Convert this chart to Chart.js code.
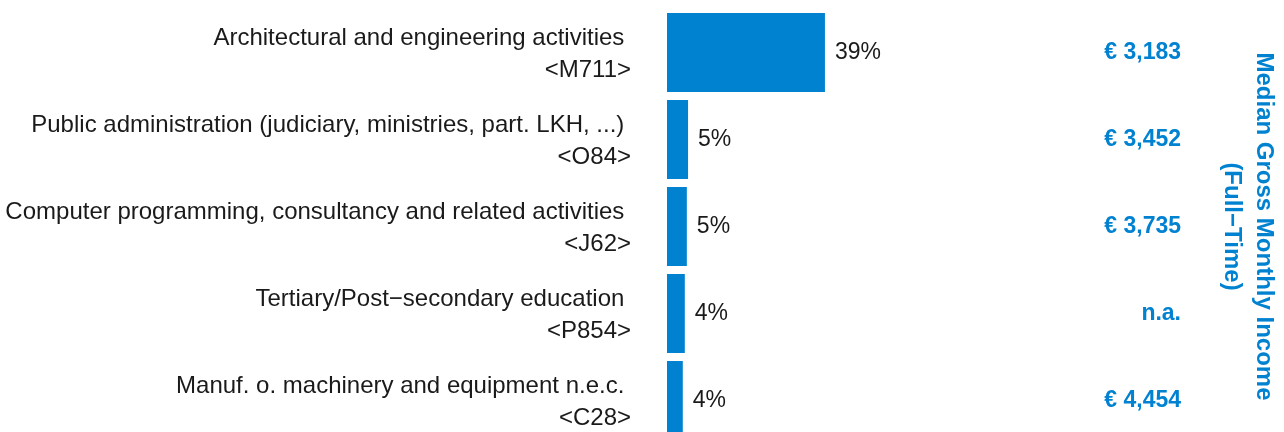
<!DOCTYPE html>
<html>
<head>
<meta charset="utf-8">
<script src="https://cdn.jsdelivr.net/npm/chart.js@4"></script>
<style>
    html, body { margin: 0; padding: 0; background: #fff; overflow: hidden; }
    #wrap { width: 1284px; height: 444px; position: relative; }
</style>
</head>
<body>
<div id="wrap"><canvas id="chart"></canvas></div>
<script>
/* DATA */
const categories = [
    ["Architectural and engineering activities ", "<M711>"],
    ["Public administration (judiciary, ministries, part. LKH, ...) ", "<O84>"],
    ["Computer programming, consultancy and related activities ", "<J62>"],
    ["Tertiary/Post\u2212secondary education ", "<P854>"],
    ["Manuf. o. machinery and equipment n.e.c. ", "<C28>"]
];
const shares = [39, 5.2, 4.9, 4.4, 3.9];
const shareLabels = ["39%", "5%", "5%", "4%", "4%"];
const incomes = ["\u20ac 3,183", "\u20ac 3,452", "\u20ac 3,735", "n.a.", "\u20ac 4,454"];
const incomeTitle = ["Median Gross Monthly Income", "(Full\u2212Time)"];

const blue = "#0082D1";
const fontFamily = "'Liberation Sans', Arial, sans-serif";

/* Value + income labels */
const labelPlugin = {
    id: "labels",
    afterDatasetsDraw(chart) {
        const ctx = chart.ctx;
        const meta = chart.getDatasetMeta(0);
        const yScale = chart.scales.y;
        ctx.save();
        ctx.textBaseline = "middle";

        ctx.font = "23px " + fontFamily;
        ctx.fillStyle = "#1a1a1a";
        ctx.textAlign = "left";
        meta.data.forEach((bar, i) => {
            ctx.fillText(shareLabels[i], bar.x + 10, bar.y);
        });

        ctx.font = "bold 23px " + fontFamily;
        ctx.fillStyle = blue;
        ctx.textAlign = "right";
        incomes.forEach((txt, i) => {
            ctx.fillText(txt, chart.chartArea.right + 109, yScale.getPixelForValue(i));
        });
        ctx.restore();
    }
};

/* fixed axis widths, no extra label padding top/bottom */
const fixWidth = w => scale => {
    scale.width = w;
    scale.paddingTop = 0;
    scale.paddingBottom = 0;
};

new Chart(document.getElementById("chart"), {
    type: "bar",
    data: {
        labels: categories,
        datasets: [{
            data: shares,
            backgroundColor: blue,
            borderWidth: 0,
            categoryPercentage: 1,
            barPercentage: 0.91
        }]
    },
    options: {
        indexAxis: "y",
        responsive: true,
        maintainAspectRatio: false,
        animation: false,
        layout: { padding: { top: 9, left: 0, right: 0, bottom: 0 } },
        plugins: {
            legend: { display: false },
            tooltip: { enabled: false }
        },
        scales: {
            x: {
                display: false,
                min: 0,
                max: 100
            },
            y: {
                position: "left",
                grid: { display: false, drawTicks: false },
                border: { display: false },
                ticks: {
                    autoSkip: false,
                    padding: 36,
                    labelOffset: 2,
                    color: "#1a1a1a",
                    font: { family: fontFamily, size: 24, lineHeight: "32px" }
                },
                afterFit: fixWidth(667)
            },
            y2: {
                type: "category",
                position: "right",
                grid: { display: false, drawTicks: false },
                border: { display: false },
                ticks: { display: false },
                title: {
                    display: true,
                    text: incomeTitle,
                    color: blue,
                    padding: { top: 4, bottom: 0 },
                    font: { family: fontFamily, size: 24, weight: "bold", lineHeight: "32px" }
                },
                afterFit: fixWidth(212)
            }
        }
    },
    plugins: [labelPlugin]
});
</script>
</body>
</html>
